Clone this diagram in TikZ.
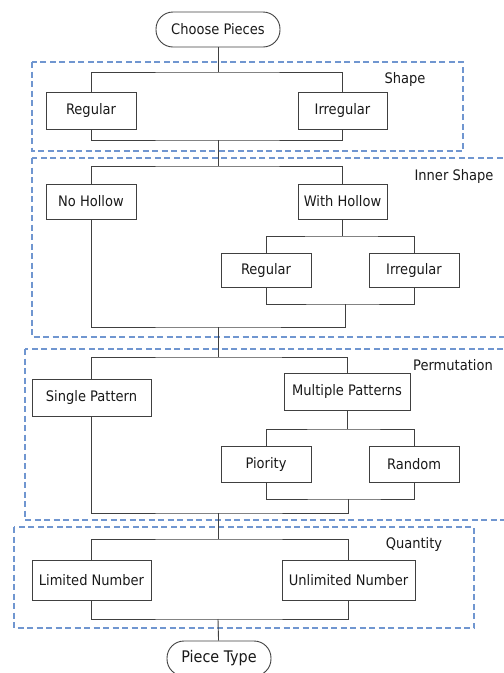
\documentclass[tikz,border=0pt]{standalone}
\usepackage{fontspec}
\setmainfont{DejaVu Sans Condensed}
\definecolor{framecol}{RGB}{112,150,208}
\definecolor{linecol}{RGB}{64,64,64}
\tikzset{
  box/.style={draw=linecol, rectangle, line width=0.9pt, minimum width=90pt, minimum height=36pt, inner sep=2pt, text=black!90, font=\fontsize{14.5}{16}\selectfont},
  terminal/.style={box, rounded corners=17pt},
  frame/.style={draw=framecol, line width=1.1pt, dash pattern=on 6pt off 3.5pt},
  tag/.style={font=\fontsize{14.5}{16}\selectfont, text=black!90},
  link/.style={draw=linecol, line width=0.9pt}
}
\begin{document}
\begin{tikzpicture}[x=1pt, y=-1pt]
    \useasboundingbox (0,0) rectangle (504,673);

    % Groups
    \draw[frame] (32,62) rectangle (463,151);
    \draw[frame] (32,158) rectangle (530,337);
    \draw[frame] (25,349) rectangle (530,520);
    \draw[frame] (14,527) rectangle (474,628);
    \node[tag] (shapetag) at (405,79) {Shape};
    \node[tag] (innertag) at (454,176) {Inner Shape};
    \node[tag] (permtag) at (453,365) {Permutation};
    \node[tag] (quanttag) at (414,544) {Quantity};

    % Start and end
    \node[terminal, minimum width=124pt, minimum height=35pt] (choose) at (218,29.5) {Choose Pieces};
    \node[terminal, minimum width=104pt, minimum height=35pt, font=\fontsize{16}{18}\selectfont] (piece) at (219,658.5) {Piece Type};

    % Shape
    \node[box, minimum height=37pt] (reg1) at (91,110.5) {Regular};
    \node[box, minimum width=89pt, minimum height=37pt] (irr1) at (342.5,110.5) {Irregular};

    % Inner shape
    \node[box, minimum height=35pt] (nohol) at (91,201.5) {No Hollow};
    \node[box, minimum width=89pt, minimum height=35pt] (withhol) at (342.5,201.5) {With Hollow};
    \node[box, minimum height=34pt] (reg2) at (266,270) {Regular};
    \node[box, minimum height=34pt] (irr2) at (414,270) {Irregular};

    % Permutation
    \node[box, minimum width=119pt, minimum height=37pt] (single) at (91.5,397.5) {Single Pattern};
    \node[box, minimum width=126pt, minimum height=37pt] (multi) at (347,391.5) {Multiple Patterns};
    \node[box] (prio) at (266,464) {Piority};
    \node[box] (rand) at (414,464) {Random};

    % Quantity
    \node[box, minimum width=119pt, minimum height=40pt] (limited) at (91.5,580) {Limited Number};
    \node[box, minimum width=133pt, minimum height=40pt] (unlim) at (348.5,580) {Unlimited Number};

    % Junctions
    \coordinate (t1) at (218,72);
    \coordinate (b1) at (218,140);
    \coordinate (t2) at (218,166);
    \coordinate (t2s) at (342.5,236);
    \coordinate (b2s) at (345,304);
    \coordinate (b2) at (218,327);
    \coordinate (t3) at (218,357);
    \coordinate (t3s) at (347,429);
    \coordinate (b3s) at (348,499);
    \coordinate (b3) at (218,513);
    \coordinate (t4) at (218,539);
    \coordinate (b4) at (218,619);

    % Edges
    \draw[link] (choose) -- (t1);
    \draw[link] (reg1) |- (t1) -| (irr1);
    \draw[link] (reg1) |- (b1) -| (irr1);
    \draw[link] (b1) -- (t2);
    \draw[link] (nohol) |- (t2) -| (withhol);
    \draw[link] (withhol) -- (t2s);
    \draw[link] (reg2) |- (t2s) -| (irr2);
    \draw[link] (reg2) |- (b2s) -| (irr2);
    \draw[link] (nohol) |- (b2) -| (b2s);
    \draw[link] (b2) -- (t3);
    \draw[link] (single) |- (t3) -| (multi);
    \draw[link] (multi) -- (t3s);
    \draw[link] (prio) |- (t3s) -| (rand);
    \draw[link] (prio) |- (b3s) -| (rand);
    \draw[link] (single) |- (b3) -| (b3s);
    \draw[link] (b3) -- (t4);
    \draw[link] (limited) |- (t4) -| (unlim);
    \draw[link] (limited) |- (b4) -| (unlim);
    \draw[link] (b4) -- (piece);

\end{tikzpicture}
\end{document}
